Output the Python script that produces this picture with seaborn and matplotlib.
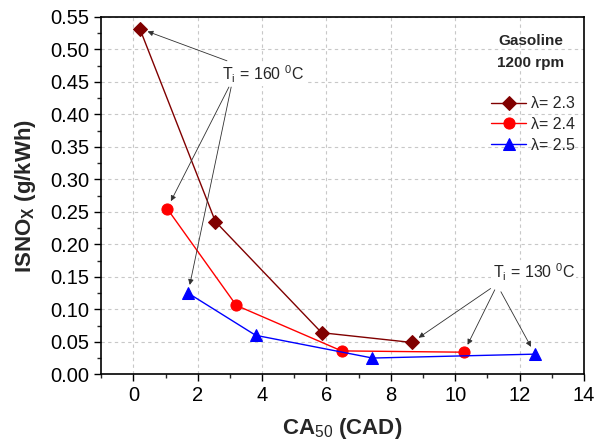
import matplotlib
matplotlib.use("Agg")
import matplotlib.pyplot as plt
import pandas as pd
import seaborn as sns
from matplotlib.ticker import MultipleLocator

# data
ca50_23 = [0.2, 2.55, 5.85, 8.65]
nox_23 = [0.532, 0.235, 0.064, 0.049]
ca50_24 = [1.05, 3.2, 6.47, 10.27]
nox_24 = [0.255, 0.106, 0.036, 0.034]
ca50_25 = [1.7, 3.8, 7.43, 12.48]
nox_25 = [0.125, 0.060, 0.025, 0.031]
labels = ["λ= 2.3", "λ= 2.4", "λ= 2.5"]

sns.set_style("ticks")
plt.rcParams["font.family"] = ["Liberation Sans", "DejaVu Sans"]
plt.rcParams["mathtext.fontset"] = "custom"
plt.rcParams["mathtext.rm"] = "Liberation Sans"
plt.rcParams["mathtext.bf"] = "Liberation Sans:bold"

fig = plt.figure(figsize=(6.02, 4.44), dpi=100)
ax = fig.add_axes([0.168, 0.157, 0.802, 0.805])

series = [
    (ca50_23, nox_23, labels[0], "#800000", "D", 7),
    (ca50_24, nox_24, labels[1], "#ff0000", "o", 8),
    (ca50_25, nox_25, labels[2], "#0000ff", "^", 8),
]
for xs, ys, lab, col, mk, ms in series:
    df = pd.DataFrame({"x": xs, "y": ys})
    sns.lineplot(data=df, x="x", y="y", ax=ax, color=col, marker=mk, markersize=ms,
                 markeredgecolor=col, linewidth=1, sort=False, label=lab)

ax.set_xlim(-1, 14)
ax.set_ylim(0, 0.55)
ax.xaxis.set_major_locator(MultipleLocator(2))
ax.xaxis.set_minor_locator(MultipleLocator(1))
ax.yaxis.set_major_locator(MultipleLocator(0.05))
ax.yaxis.set_minor_locator(MultipleLocator(0.025))
ax.yaxis.set_major_formatter(plt.FormatStrFormatter("%.2f"))
ax.tick_params(which="major", direction="out", length=5, width=1, labelsize=14.5, colors="black")
ax.tick_params(which="minor", direction="out", length=3, width=1)
ax.grid(True, which="major", linestyle=(0, (3, 3)), color="#c8c8c8", linewidth=0.8)
for sp in ax.spines.values():
    sp.set_linewidth(1.2)
    sp.set_color("black")

ax.set_xlabel(r"CA$_{\mathrm{50}}$ (CAD)", fontsize=16, fontweight="bold", labelpad=8)
ax.set_ylabel(r"ISNO$_{\mathbf{X}}$ (g/kWh)", fontsize=16, fontweight="bold", labelpad=9)

leg = ax.legend(loc="upper right", bbox_to_anchor=(0.982, 0.778), frameon=False, borderpad=0,
                borderaxespad=0, fontsize=11.5, handlelength=2.2, handletextpad=0.3,
                labelspacing=0.36)
ax.text(0.89, 0.932, "Gasoline", transform=ax.transAxes, ha="center", va="center",
        fontsize=11, fontweight="bold")
ax.text(0.89, 0.871, "1200 rpm", transform=ax.transAxes, ha="center", va="center",
        fontsize=11, fontweight="bold")

arrow = dict(arrowstyle="-|>", color="#303030", lw=0.6, mutation_scale=8, shrinkA=0, shrinkB=6)
t160 = r"T$_{\mathrm{i}}$ = 160 $^{0}$C"
ax.annotate(t160, xy=(ca50_23[0], nox_23[0]), xytext=(2.75, 0.462), fontsize=11.5,
            ha="left", va="center", arrowprops=dict(arrow, shrinkA=2),
            bbox=dict(boxstyle="square,pad=0.1", fc="white", ec="none"))
ax.annotate("", xy=(ca50_24[0], nox_24[0]), xytext=(2.97, 0.442), arrowprops=arrow)
ax.annotate("", xy=(ca50_25[0], nox_25[0]), xytext=(3.04, 0.442), arrowprops=arrow)

t130 = r"T$_{\mathrm{i}}$ = 130 $^{0}$C"
ax.annotate("", xy=(ca50_23[3], nox_23[3]), xytext=(11.1, 0.132), arrowprops=arrow)
ax.annotate("", xy=(ca50_24[3], nox_24[3]), xytext=(11.23, 0.130), arrowprops=arrow)
ax.annotate("", xy=(ca50_25[3], nox_25[3]), xytext=(11.42, 0.127), arrowprops=arrow)
ax.text(11.16, 0.157, t130, fontsize=11.5, ha="left", va="center",
        bbox=dict(boxstyle="square,pad=0.1", fc="white", ec="none"))

fig.savefig("out.png", dpi=100)
